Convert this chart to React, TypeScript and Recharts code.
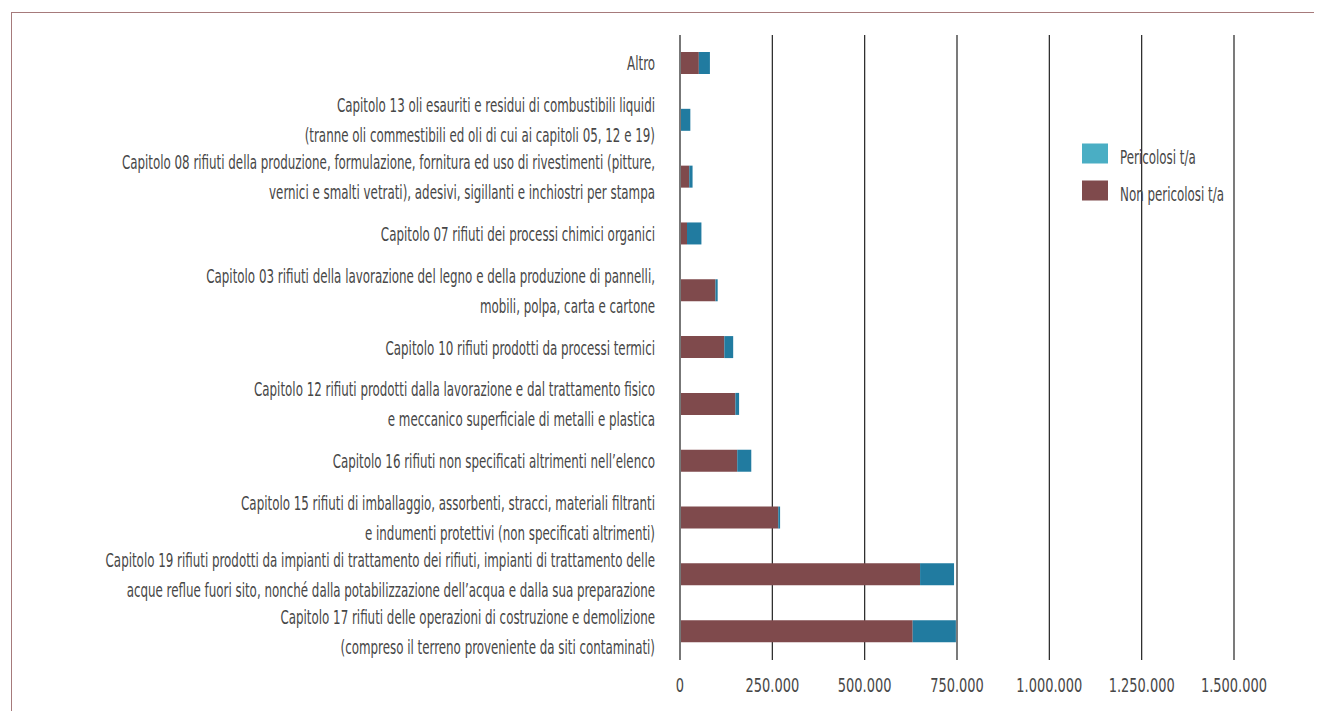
import React from 'react'
import { Bar, BarChart, CartesianGrid, XAxis, YAxis } from 'recharts'

const categories = [
  'Altro',
  'Capitolo 13 oli esauriti e residui di combustibili liquidi\n(tranne oli commestibili ed oli di cui ai capitoli 05, 12 e 19)',
  'Capitolo 08 rifiuti della produzione, formulazione, fornitura ed uso di rivestimenti (pitture,\nvernici e smalti vetrati), adesivi, sigillanti e inchiostri per stampa',
  'Capitolo 07 rifiuti dei processi chimici organici',
  'Capitolo 03 rifiuti della lavorazione del legno e della produzione di pannelli,\nmobili, polpa, carta e cartone',
  'Capitolo 10 rifiuti prodotti da processi termici',
  'Capitolo 12 rifiuti prodotti dalla lavorazione e dal trattamento fisico\ne meccanico superficiale di metalli e plastica',
  'Capitolo 16 rifiuti non specificati altrimenti nell’elenco',
  'Capitolo 15 rifiuti di imballaggio, assorbenti, stracci, materiali filtranti\ne indumenti protettivi (non specificati altrimenti)',
  'Capitolo 19 rifiuti prodotti da impianti di trattamento dei rifiuti, impianti di trattamento delle\nacque reflue fuori sito, nonché dalla potabilizzazione dell’acqua e dalla sua preparazione',
  'Capitolo 17 rifiuti delle operazioni di costruzione e demolizione\n(compreso il terreno proveniente da siti contaminati)',
]

// t/a
const nonPericolosi = [51000, 1000, 25000, 19000, 96000, 120000, 150000, 155000, 266000, 650000, 630000]
const pericolosi = [30000, 27000, 9000, 39000, 6000, 24000, 10000, 38000, 5000, 92000, 117000]

const xTicks = [0, 250000, 500000, 750000, 1000000, 1250000, 1500000]

const data = categories.map((name, i) => ({
  name,
  nonPericolosi: nonPericolosi[i],
  pericolosi: pericolosi[i],
}))

const FONT = "'Liberation Sans Narrow', 'DejaVu Sans Condensed', sans-serif"
const TEXT = '#474747'
const BROWN = '#7f4a4c'
const BLUE = '#217ba0'
const BLUE_LEGEND = '#4aaec4'
const FS = 20
const SQUEEZE = 0.66
const FS_NUM = 19.5
const SQUEEZE_NUM = 0.74

const formatIt = (v: number) => String(v).replace(/\B(?=(\d{3})+(?!\d))/g, '.')

const CategoryTick = ({ x, y, payload }: any) => {
  const lines: string[] = String(payload.value).split('\n')
  const lineH = 30
  const start = -((lines.length - 1) * lineH) / 2
  return (
    <text
      transform={`translate(${x - 17},${y}) scale(${SQUEEZE},1)`}
      textAnchor="end"
      fill={TEXT}
      fontSize={FS}
      fontFamily={FONT}
    >
      {lines.map((l, i) => (
        <tspan key={i} x={0} dy={i === 0 ? start + 0.35 * FS : lineH}>
          {l}
        </tspan>
      ))}
    </text>
  )
}

const ValueTick = ({ x, y, payload }: any) => (
  <text
    transform={`translate(${x},${y}) scale(${SQUEEZE_NUM},1)`}
    textAnchor="middle"
    dy="0.71em"
    fill={TEXT}
    fontSize={FS_NUM}
    fontFamily={FONT}
  >
    {formatIt(payload.value)}
  </text>
)

const legendItems = [
  { label: 'Pericolosi t/a', color: BLUE_LEGEND },
  { label: 'Non pericolosi t/a', color: BROWN },
]

export default function App() {
  return (
    <div style={{ position: 'relative', margin: -8, width: 1322, height: 719, overflow: 'hidden' }}>
      <div
        style={{
          position: 'absolute',
          left: 11,
          top: 12,
          width: 1400,
          height: 800,
          borderTop: '1.5px solid #a67a7b',
          borderLeft: '1.5px solid #a67a7b',
        }}
      />
      <BarChart
        width={1300}
        height={700}
        data={data}
        layout="vertical"
        margin={{ top: 27, right: 74, bottom: 8, left: 0 }}
        barSize={22}
        style={{ position: 'absolute', left: 8, top: 8 }}
      >
        <CartesianGrid horizontal={false} stroke="#222" strokeWidth={1.2} />
        <XAxis
          type="number"
          domain={[0, 1500000]}
          ticks={xTicks}
          axisLine={false}
          tickLine={false}
          tickSize={0}
          tickMargin={18}
          height={40}
          tick={<ValueTick />}
          interval={0}
        />
        <YAxis
          type="category"
          dataKey="name"
          width={672}
          axisLine={{ stroke: '#777', strokeWidth: 2 }}
          tickLine={false}
          tick={<CategoryTick />}
          interval={0}
        />
        <Bar dataKey="nonPericolosi" stackId="a" fill={BROWN} isAnimationActive={false} />
        <Bar dataKey="pericolosi" stackId="a" fill={BLUE} isAnimationActive={false} />
      </BarChart>
      <svg width={200} height={80} style={{ position: 'absolute', left: 1082, top: 140 }}>
        {legendItems.map((it, i) => (
          <g key={it.label} transform={`translate(0,${i * 37})`}>
            <rect x={0} y={3.5} width={26} height={20} fill={it.color} />
            <text
              transform={`translate(38,16.5) scale(${SQUEEZE},1)`}
              dy="0.35em"
              fill={TEXT}
              fontSize={FS}
              fontFamily={FONT}
            >
              {it.label}
            </text>
          </g>
        ))}
      </svg>
    </div>
  )
}
